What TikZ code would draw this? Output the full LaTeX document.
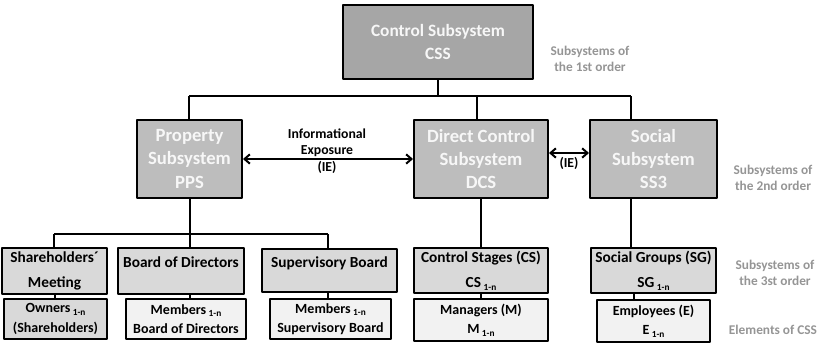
\documentclass[tikz,border=0pt]{standalone}
\usepackage{fontspec}
\setmainfont{Carlito}
\usetikzlibrary{arrows.meta}
\definecolor{firstorder}{HTML}{A6A6A6}
\definecolor{secondorder}{HTML}{BDBDBD}
\definecolor{thirdorder}{HTML}{D9D9D9}
\definecolor{elementfill}{HTML}{F2F2F2}
\definecolor{boxtext}{HTML}{F7F7F7}
\definecolor{levelnote}{HTML}{959595}
\newcommand{\onen}{\,\raisebox{-0.4ex}{\scriptsize 1-n}}

\begin{document}
\begin{tikzpicture}[
  x=0.75pt,
  y=-0.75pt,
  line join=round,
  box/.style={draw=black,line width=1.5pt,inner sep=1pt,align=center,font=\bfseries},
  css/.style={box,fill=firstorder,text=boxtext,font=\bfseries\fontsize{13}{17}\selectfont},
  sub/.style={box,fill=secondorder,text=boxtext,font=\bfseries\fontsize{14}{17.5}\selectfont},
  stage/.style={box,fill=thirdorder,font=\bfseries\fontsize{11.5}{19}\selectfont},
  member/.style={box,fill=elementfill,font=\bfseries\fontsize{10.5}{14.5}\selectfont},
  link/.style={draw=black,line width=1.5pt},
  exposure/.style={link,{Straight Barb[length=4pt,width=7pt]}-{Straight Barb[length=4pt,width=7pt]}},
  note/.style={align=center,text=levelnote,font=\bfseries\fontsize{10}{12.5}\selectfont},
  ielabel/.style={align=center,font=\bfseries\fontsize{10.3}{12.5}\selectfont}
]
  \useasboundingbox (0,0) rectangle (832,343);

  % Subsystem of the 1st order
  \node[css,minimum width=190*0.75pt,minimum height=74*0.75pt] (css) at (438,42)
    {Control Subsystem\\CSS};

  % Subsystems of the 2nd order
  \node[sub,minimum width=105*0.75pt,minimum height=78*0.75pt] (pps) at (189.5,159)
    {Property\\Subsystem\\PPS};
  \node[sub,minimum width=134*0.75pt,minimum height=78*0.75pt] (dcs) at (481,159)
    {Direct Control\\Subsystem\\DCS};
  \node[sub,minimum width=127*0.75pt,minimum height=78*0.75pt] (ss3) at (653.5,159)
    {Social\\Subsystem\\SS3};

  % Subsystems of the 3rd order
  \node[stage,minimum width=105*0.75pt,minimum height=46*0.75pt] (meeting) at (54.5,271)
    {Shareholders\textasciiacute\\Meeting};
  \node[stage,minimum width=126*0.75pt,minimum height=46*0.75pt,text depth=14pt] (board) at (181,271)
    {Board of Directors};
  \node[stage,minimum width=135*0.75pt,minimum height=43*0.75pt,text depth=12pt] (superv) at (329.5,270.5)
    {Supervisory Board};
  \node[stage,minimum width=134*0.75pt,minimum height=45*0.75pt] (stages) at (481,270.5)
    {Control Stages (CS)\\CS\onen};
  \node[stage,minimum width=125*0.75pt,minimum height=45*0.75pt] (groups) at (653.5,270.5)
    {Social Groups (SG)\\SG\onen};

  % Elements of CSS
  \node[member,fill=thirdorder,minimum width=103*0.75pt,minimum height=40*0.75pt] (owners) at (55.5,319)
    {Owners\onen\\(Shareholders)};
  \node[member,minimum width=120*0.75pt,minimum height=40*0.75pt] (mboard) at (186,319)
    {Members\onen\\Board of Directors};
  \node[member,minimum width=121*0.75pt,minimum height=40*0.75pt] (msuperv) at (330.5,319)
    {Members\onen\\Supervisory Board};
  \node[member,minimum width=134*0.75pt,minimum height=42*0.75pt] (managers) at (481,320)
    {Managers (M)\\M\onen};
  \node[member,minimum width=113*0.75pt,minimum height=42*0.75pt] (employees) at (653.5,321)
    {Employees (E)\\E\onen};

  % Tree lines
  \coordinate (topL) at (189,96);
  \coordinate (topR) at (631,96);
  \coordinate (ppsL) at (54,234);
  \coordinate (ppsR) at (328,234);
  \draw[link] (css.south) -- (css.south |- topL);
  \draw[link] (topL) -- (topR);
  \draw[link] (topL) -- (topL |- pps.north);
  \draw[link] ([xshift=-3pt]dcs.north) -- ([xshift=-3pt]dcs.north |- topL);
  \draw[link] (topR) -- (topR |- ss3.north);

  \draw[link] (pps.south) -- (pps.south |- ppsL);
  \draw[link] (ppsL) -- (ppsR);
  \draw[link] (ppsL) -- (ppsL |- meeting.north);
  \draw[link] (pps.south |- ppsL) -- (pps.south |- board.north);
  \draw[link] (ppsR) -- (ppsR |- superv.north);

  \draw[link] (dcs.south) -- (stages.north);
  \draw[link] (topR |- ss3.south) -- (topR |- groups.north);

  \draw[link] (meeting.south) -- (owners.north -| meeting.south);
  \draw[link] (mboard.north -| pps.south) -- (board.south -| pps.south);
  \draw[link] (superv.south -| ppsR) -- (msuperv.north -| ppsR);
  \draw[link] (stages.south) -- (managers.north);
  \draw[link] ([xshift=-15pt]groups.south) -- ([xshift=-15pt]groups.south |- employees.north);

  % Informational exposure between the subsystems
  \draw[exposure] (pps.east) -- (dcs.west);
  \node[ielabel] (ie) at (327,151) {Informational\\Exposure\\(IE)};
  \draw[exposure] ([yshift=4.5pt]dcs.east) -- ([yshift=4.5pt]ss3.west);
  \node[ielabel] (ieshort) at (569,163) {(IE)};

  % Level notes on the right
  \node[note] (first) at (590,59) {Subsystems of\\the 1st order};
  \node[note] (second) at (773,178) {Subsystems of\\the 2nd order};
  \node[note] (third) at (775,273) {Subsystems of\\the 3st order};
  \node[note] (elements) at (773,330) {Elements of CSS};
\end{tikzpicture}
\end{document}
